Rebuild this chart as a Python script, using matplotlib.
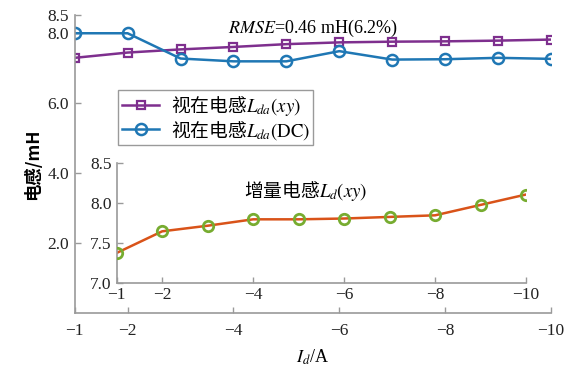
import matplotlib
matplotlib.use("Agg")
import matplotlib.pyplot as plt

plt.rcParams['font.family'] = ['Liberation Serif', 'Noto Sans CJK SC']
plt.rcParams['mathtext.fontset'] = 'stix'

# courant I_d (A)
current = [-1, -2, -3, -4, -5, -6, -7, -8, -9, -10]
# inductance apparente (mH)
lda_xy = [7.28, 7.43, 7.52, 7.59, 7.67, 7.72, 7.74, 7.75, 7.77, 7.80]
lda_dc = [7.98, 7.98, 7.26, 7.18, 7.18, 7.47, 7.23, 7.24, 7.28, 7.25]
# inductance incrementale (mH)
ld_xy = [7.38, 7.65, 7.72, 7.80, 7.80, 7.81, 7.83, 7.85, 7.98, 8.11]

xticks = [-1, -2, -4, -6, -8, -10]
yticks_main = [2.0, 4.0, 6.0, 8.0, 8.5]
yticks_inset = [7.0, 7.5, 8.0, 8.5]

purple = '#7E2F8E'
blue = '#1F77B4'
orange = '#D95319'
green = '#77AC30'
grey = '#9a9a9a'
cjk = 'Noto Sans CJK SC'

fig = plt.figure(figsize=(5.73, 3.67), dpi=100)
ax = fig.add_axes([0.1304, 0.1463, 0.8312, 0.8128])

ax.plot(current, lda_xy, '-s', color=purple, lw=1.8, ms=6,
        mfc='none', mec=purple, mew=1.6, label=r'视在电感$L_{da}(xy)$')
ax.plot(current, lda_dc, '-o', color=blue, lw=1.8, ms=8,
        mfc='none', mec=blue, mew=1.8, label=r'视在电感$L_{da}\mathrm{(DC)}$')

ax.set_xlim(-1, -10)
ax.set_ylim(0, 8.5)
ax.set_xticks(xticks)
ax.set_xticklabels([str(t).replace('-', '\u2212') for t in xticks])
ax.set_yticks(yticks_main)
ax.set_yticklabels(['%.1f' % t for t in yticks_main])

def style(a):
    for s in ['top', 'right']:
        a.spines[s].set_visible(False)
    for s in ['left', 'bottom']:
        a.spines[s].set_color(grey)
        a.spines[s].set_linewidth(1.2)
    a.tick_params(direction='in', length=4, width=1.0, color=grey,
                  labelsize=12.5, labelcolor='#222222')

style(ax)
ax.tick_params(axis='x', pad=7)
ax.tick_params(axis='y', pad=4)

ax.set_xlabel(r'$I_d$/A', fontsize=13, labelpad=6)
ax.set_ylabel('电感/mH', fontsize=12.5, fontweight='bold',
              family=[cjk], labelpad=4)

ax.text(0.5, 0.99, r'$RMSE$=0.46 mH(6.2%)', transform=ax.transAxes,
        ha='center', va='top', fontsize=13)

leg = ax.legend(loc='upper left', bbox_to_anchor=(0.091, 0.749),
                borderaxespad=0, prop={'family': cjk, 'size': 13.5},
                handlelength=2.0, fancybox=False, framealpha=1,
                edgecolor=grey, borderpad=0.2, labelspacing=0.05,
                handletextpad=0.6)
leg.get_frame().set_linewidth(1.0)

# encart : inductance incrementale
ins = fig.add_axes([0.2037, 0.228, 0.7143, 0.327])
ins.plot(current, ld_xy, '-', color=orange, lw=1.8, zorder=2)
ins.plot(current, ld_xy, 'o', ms=7.5, mfc='none', mec=green, mew=2.0,
         zorder=3)
ins.set_xlim(-1, -10)
ins.set_ylim(7.0, 8.5)
ins.set_xticks(xticks)
ins.set_xticklabels([str(t).replace('-', '\u2212') for t in xticks])
ins.set_yticks(yticks_inset)
ins.set_yticklabels(['%.1f' % t for t in yticks_inset])
ins.patch.set_alpha(0)
style(ins)
ins.tick_params(axis='x', pad=3)
ins.text(0.462, 0.77, r'增量电感$L_d(xy)$', transform=ins.transAxes,
         ha='center', va='center', fontsize=13.5, family=cjk)

fig.savefig('out.png', dpi=100)
